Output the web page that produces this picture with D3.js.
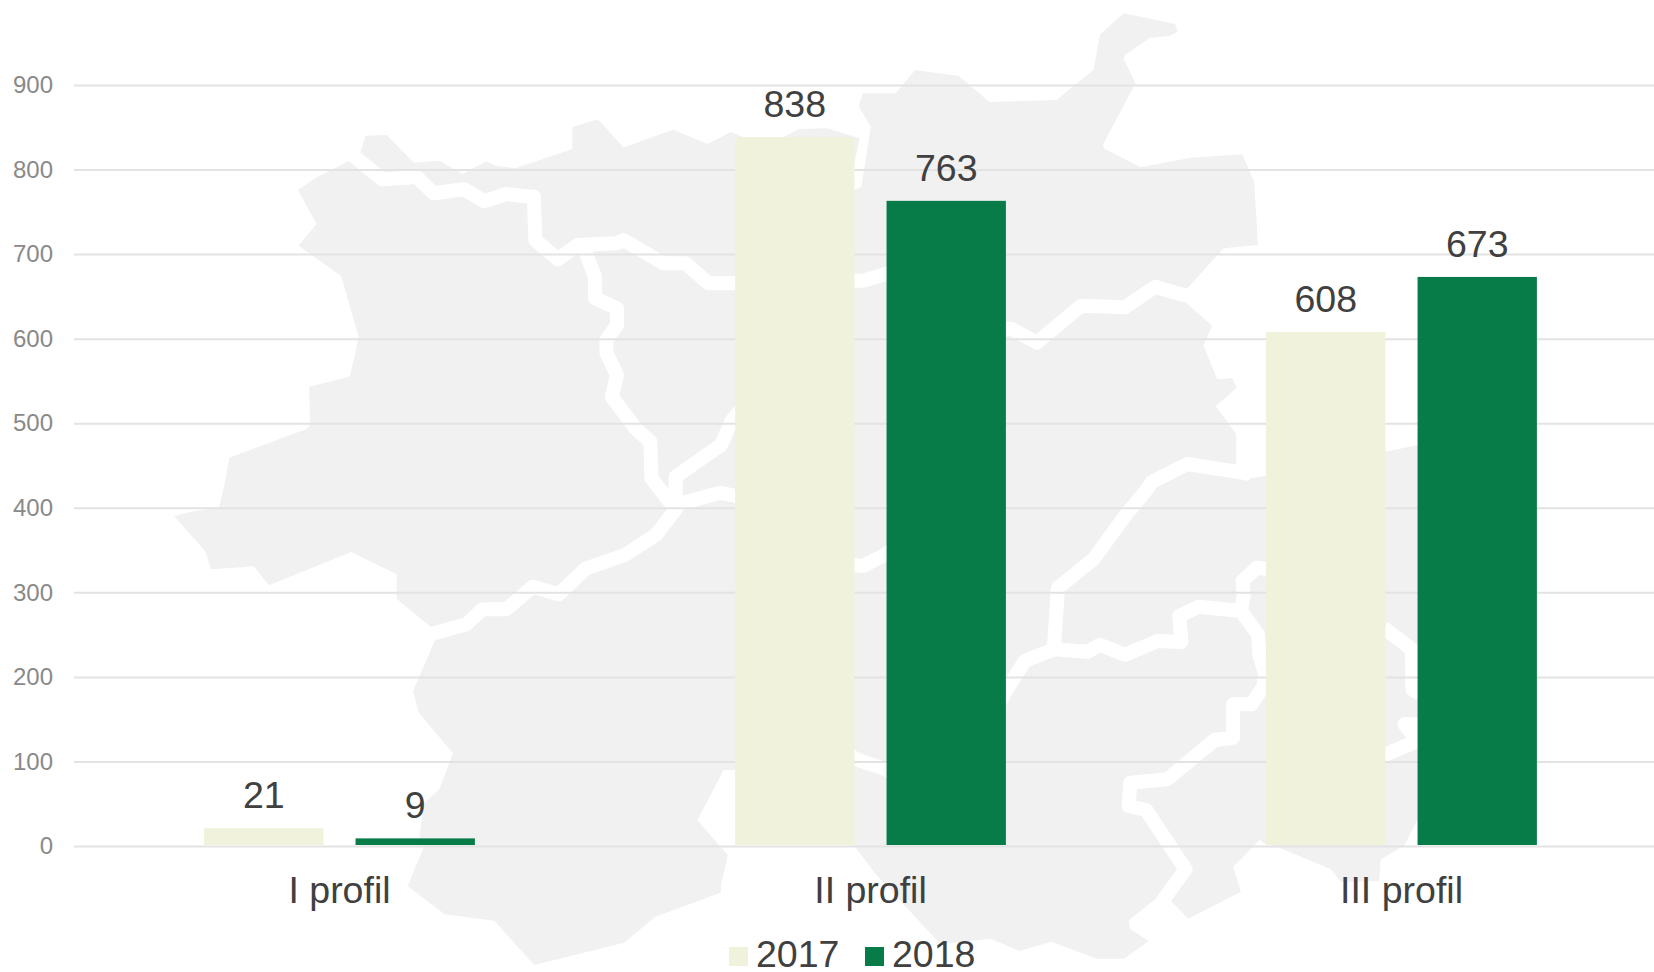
<!DOCTYPE html>
<html>
<head>
<meta charset="utf-8">
<script src="https://cdnjs.cloudflare.com/ajax/libs/d3/7.8.5/d3.min.js"></script>
<style>
  html, body { margin: 0; padding: 0; background: #fff; }
  svg { display: block; font-family: "Liberation Sans", Arial, sans-serif; }
</style>
</head>
<body>
<svg id="chart" width="1654" height="972"></svg>
<script>
var categories = ["I profil", "II profil", "III profil"];
var years = ["2017", "2018"];
var values2017 = [21, 838, 608];
var values2018 = [9, 763, 673];
var yTicks = [0, 100, 200, 300, 400, 500, 600, 700, 800, 900];
var yearColors = ["#f0f2dc", "#077b48"];

// background map, traced in page pixels (decoration, not data)
var mapOutline = [[349.2,160.7],[360.2,152.7],[365.5,135.7],[386.6,135],[414,162.7],[439.3,160.7],[462.6,174],[486.3,161.3],[495.8,165.7],[515.3,168.3],[572.3,149],[572.3,127],[598.1,119.3],[623.4,147.3],[635.5,143.3],[673,129.7],[707.8,144],[730.5,132],[743.7,137.3],[783.2,137.3],[799,129],[827,128.3],[859.7,138.3],[854.4,163.3],[842.8,176.7],[854.4,190],[861.3,187.3],[870.8,126.7],[858.6,106],[862.9,93.3],[895.6,93.3],[915.1,70],[958.9,76],[989.4,102],[1056.4,100],[1093.4,70],[1100.2,34.3],[1123.9,13.3],[1175.1,24],[1177.7,31.7],[1169.8,36],[1150.3,37.7],[1125,55],[1123.9,59.3],[1135.5,83.3],[1102.8,145],[1105,149],[1140.8,167.3],[1190.9,157.7],[1242.1,154.3],[1254.2,181.7],[1257.9,245],[1223.6,248.3],[1186.7,289],[1185.6,302.3],[1212,325.7],[1203.6,345.7],[1217.3,379.3],[1232.1,378],[1236.8,387.7],[1215.7,406],[1236.3,434],[1236.3,465.7],[1245.3,479],[1265.8,475.7],[1385.5,451.7],[1417.7,445],[1433.5,441.7],[1433.5,786],[1417.7,819.3],[1404.5,845.3],[1380.8,859.3],[1379.2,881],[1341.2,882],[1330.7,869.3],[1275.3,846],[1265.8,844.3],[1259.5,840],[1233.1,867],[1241,891.7],[1188.3,918.7],[1170.9,901],[1155.1,899.3],[1128.7,920.3],[1130.3,929.3],[1148.7,941],[1123.9,958.7],[1097,958.7],[1051.2,941.7],[1019.5,951],[990.5,938.7],[940.4,944.3],[874.5,872.7],[854.4,846],[800,780],[735.8,770],[723.6,770],[697.3,820.3],[727.8,855.3],[721.5,882.7],[720.5,892.7],[655.6,916.7],[623.9,942.7],[534.3,965],[494.2,920.7],[444.6,914.3],[407.7,886],[423.5,847.7],[419.3,836],[424.6,802.7],[439.3,789.3],[453,753.3],[418.8,712.7],[413,691],[435.1,640],[430.9,627],[396.6,598.7],[396.6,574.3],[351.3,552],[269,585.3],[253.2,566],[242.6,567.3],[211,569.3],[205.7,551.7],[174.1,516],[189.9,512],[218.9,507.7],[224.2,486],[229.4,457.7],[305.9,429.3],[310.1,425],[309.1,386.7],[349.7,376.7],[356,350],[358.6,336.7],[341.2,276],[298.5,245.7],[316.5,224],[298,190],[314.9,178.3]];

var mapBorders = [
  [[350,153],[382.4,179.3],[416.7,177],[433.5,193.3],[464.1,189.3],[484.2,201.3],[506.3,194],[522.2,196],[533.8,196.7],[535.3,240],[557.8,259.3],[577.5,245],[617,243.3],[623.4,240],[663.5,263.3],[685.6,263.3],[708.3,283.3],[735.8,283.3],[780,280],[854.4,280.7],[862.9,280.7],[886,274],[1005.3,329],[1011.6,329],[1036.9,342.7],[1081.2,305.7],[1125,307.3],[1155.1,286.7],[1187,296]],
  [[577.5,245],[585.4,251.7],[595,276.7],[595,298.3],[617,308.3],[617,325],[606.5,340],[606.5,353.3],[617,375],[611.8,396.7],[635.5,428.3],[650.3,441.7],[651.4,478.3],[675.6,509.3],[656.6,534.3],[625,555],[585.4,568.7],[559,594.3],[532.7,586.7],[506.3,609.3],[482.6,609.3],[466.2,624.3],[432.5,633.7],[425,635]],
  [[675.6,509.3],[675.6,476.7],[721,445],[732,420],[745,405]],
  [[675.6,509.3],[677.8,504.3],[720,492.7],[735.8,496],[745,498]],
  [[840,565],[854.4,565.3],[862.9,566],[886,554.3],[895,547]],
  [[845,750],[854.4,758.7],[886,769.3],[900,777]],
  [[1250,474],[1241,472.3],[1187.2,464],[1151.4,482.3],[1147.1,489.3],[1125,516],[1093.4,559.3],[1058,587.7],[1053.8,649.3]],
  [[1053.8,649.3],[1024.8,661],[1009,686],[995,710]],
  [[1053.8,649.3],[1088.1,651.7],[1099.7,644.7],[1125,654.7],[1157.7,641],[1181.4,642],[1179.3,616],[1198.8,606.7],[1241,611],[1257.9,634.3],[1259.5,656],[1264.8,672.7],[1263.7,686],[1251.6,704.3],[1233.1,704.3],[1233.1,737.7],[1214.7,740],[1167.2,779.3],[1130.3,782.7],[1128.7,806],[1146.1,810],[1185.6,869.3],[1163.5,899.3],[1160,905]],
  [[1241,611],[1243.7,596],[1242.6,581],[1256.8,567.7],[1265.8,568.7],[1275,570]],
  [[1383.4,627.7],[1411.9,649.3],[1412.5,689.3],[1420,694]],
  [[1383.4,755.3],[1417.7,741],[1404.5,724.3],[1423,724.3]]
];

var width = 1654, height = 972;
var svg = d3.select("#chart");

var x0 = d3.scaleBand().domain(categories).range([74, 1667]);
var x1 = d3.scaleBand().domain(years).range([-135.4, 135.4]).paddingInner(0.212);
var y = d3.scaleLinear().domain([0, 900]).range([846, 85]);

// map
var mapLine = d3.line();
svg.append("path")
  .attr("d", mapLine(mapOutline) + "Z")
  .attr("fill", "#f1f1f1");

svg.selectAll(".border").data(mapBorders)
  .enter()
  .append("path")
  .attr("class", "border")
  .attr("d", mapLine)
  .attr("fill", "none")
  .attr("stroke", "#fff")
  .attr("stroke-width", 14)
  .attr("stroke-linejoin", "round");

// y axis + grid
var yAxis = svg.append("g")
  .attr("transform", "translate(74,0)")
  .call(d3.axisLeft(y).tickValues(yTicks).tickSize(-(width - 74)).tickPadding(21));
yAxis.select(".domain").remove();
yAxis.selectAll("line")
  .attr("stroke", "#e3e3e3")
  .attr("stroke-width", 2);
yAxis.selectAll("text")
  .style("font-family", "'Liberation Sans', Arial, sans-serif")
  .style("font-size", "24px")
  .attr("fill", "#898989");

// bars
var series = [values2017, values2018];
years.forEach(function(year, i) {
  var rows = categories.map(function(c, k) { return {cat: c, value: series[i][k]}; });

  svg.selectAll(".bar" + year).data(rows)
    .enter()
    .append("rect")
    .attr("class", "bar" + year)
    .attr("x", function(d) { return x0(d.cat) + x0.bandwidth() / 2 + x1(year); })
    .attr("y", function(d) { return y(d.value); })
    .attr("width", x1.bandwidth())
    .attr("height", function(d) { return y(0) - y(d.value) - 1; })
    .attr("fill", yearColors[i]);

  svg.selectAll(".label" + year).data(rows)
    .enter()
    .append("text")
    .attr("class", "label" + year)
    .attr("x", function(d) { return x0(d.cat) + x0.bandwidth() / 2 + x1(year) + x1.bandwidth() / 2; })
    .attr("y", function(d) { return y(d.value) - 20; })
    .style("text-anchor", "middle")
    .style("font-size", "37.5px")
    .attr("fill", "#404040")
    .text(function(d) { return d.value; });
});

// x axis
var xAxis = svg.append("g")
  .attr("transform", "translate(0,846)")
  .call(d3.axisBottom(x0).tickSize(0).tickPadding(30));
xAxis.select(".domain").remove();
xAxis.selectAll("text")
  .style("font-family", "'Liberation Sans', Arial, sans-serif")
  .style("font-size", "37.5px")
  .attr("fill", "#404040");

// legend
var legend = svg.selectAll(".legend").data(years)
  .enter()
  .append("g")
  .attr("class", "legend")
  .attr("transform", function(d, i) { return "translate(" + (729 + i * 136) + ",947)"; });
legend.append("rect")
  .attr("width", 19)
  .attr("height", 19)
  .attr("fill", function(d, i) { return yearColors[i]; });
legend.append("text")
  .attr("x", 27)
  .attr("y", 20)
  .style("font-size", "37.5px")
  .attr("fill", "#404040")
  .text(function(d) { return d; });
</script>
</body>
</html>
